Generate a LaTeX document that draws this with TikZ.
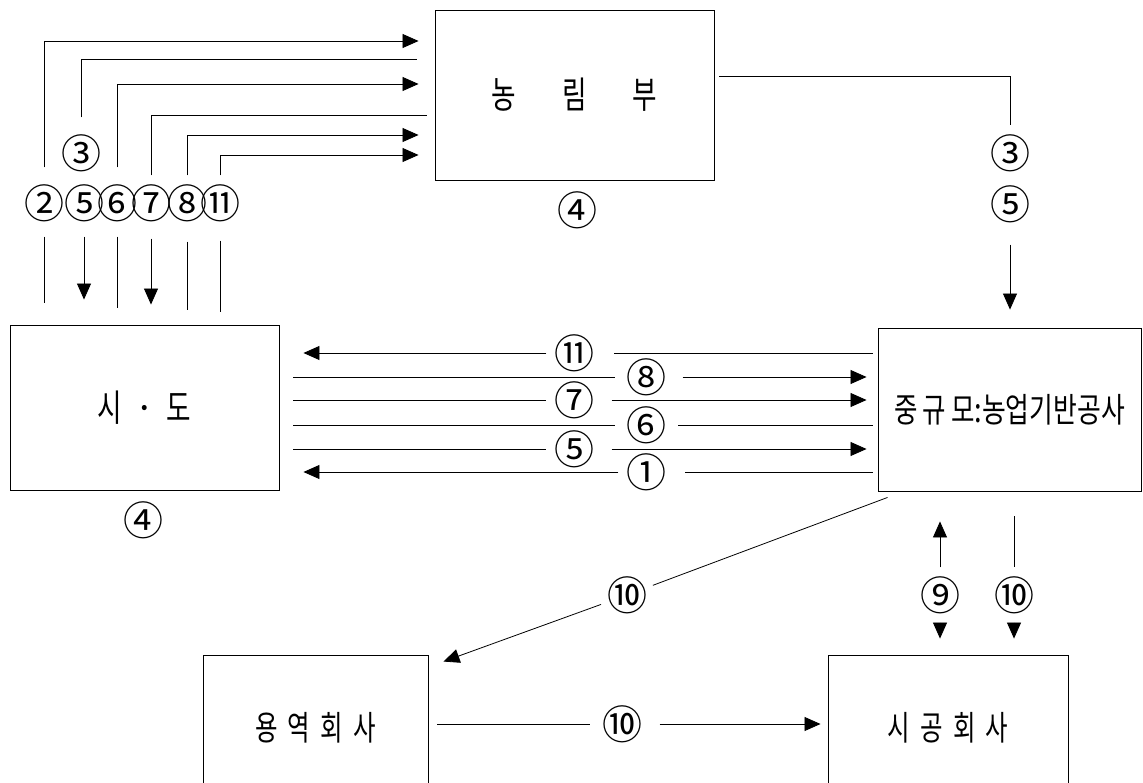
\documentclass[tikz,border=0pt]{standalone}
\usepackage{fontspec}
\setmainfont{Noto Sans CJK KR}
\usetikzlibrary{arrows.meta}
\usetikzlibrary{calc}

\newcommand{\nar}[1]{\scalebox{0.72}[1]{#1}}

\tikzset{
  box/.style={draw, line width=0.9pt, inner sep=0pt, font=\fontsize{37}{40}\selectfont},
  num/.style={circle, inner sep=0pt, minimum size=40pt, font=\fontsize{40}{40}\selectfont},
  arw/.style={-{Triangle[length=16pt,width=14pt]}},
}

\begin{document}
\begin{tikzpicture}[x=1pt, y=-1pt, line width=0.8pt]
  \clip (0,0) rectangle (1143,783);
  \fill[white] (0,0) rectangle (1143,783);
  % boxes
  \node[box, minimum width=279pt, minimum height=170pt] (nonglim) at (574.5,95) {\nar{농}\hspace{46pt}\nar{림}\hspace{46pt}\nar{부}};
  \node[box, minimum width=269pt, minimum height=165pt] (sido) at (144.5,407.5) {\nar{시}\hspace{12pt}·\hspace{12pt}\nar{도}};
  \node[box, minimum width=263pt, minimum height=163pt] (jung) at (1009.5,409.5) {\fontsize{34}{38}\selectfont \scalebox{0.75}[1]{중}\hspace{5pt}\scalebox{0.75}[1]{규}\hspace{5pt}\scalebox{0.75}[1]{모}\scalebox{0.8}[1]{:}\scalebox{0.76}[1]{농업기반공사}};
  \node[box, minimum width=225pt, minimum height=145pt] (yongyeok) at (315.5,727.5) {\fontsize{34}{38}\selectfont \nar{용}\hspace{10pt}\nar{역}\hspace{10pt}\nar{회}\hspace{10pt}\nar{사}};
  \node[box, minimum width=240pt, minimum height=145pt] (sigong) at (948,727.5) {\fontsize{34}{38}\selectfont \nar{시}\hspace{10pt}\nar{공}\hspace{10pt}\nar{회}\hspace{10pt}\nar{사}};
  \node[num] (n4a) at (577,210) {④};
  \node[num] (n4b) at (143,520) {④};

  % si-do <-> nonglimbu
  \node[num] (l3a) at (81,153) {③};
  \node[num] (l2) at (44,203) {②};
  \node[num] (l5) at (84,203) {⑤};
  \node[num] (l6) at (117,203) {⑥};
  \node[num] (l7) at (151,203) {⑦};
  \node[num] (l8) at (187,203) {⑧};
  \node[num] (l11) at (220,203) {⑪};
  \draw[arw, shorten <=8pt, shorten >=16pt] (l2) |- (nonglim.west |- 0,41);
  \draw[shorten <=8pt, shorten >=18pt] (l3a) |- (nonglim.west |- 0,59);
  \draw[arw, shorten <=8pt, shorten >=16pt] (l6) |- (nonglim.west |- 0,84);
  \draw[shorten >=8pt] (l7) |- (nonglim.west |- 0,115);
  \draw[arw, shorten >=16pt] (l8) |- (nonglim.west |- 0,135);
  \draw[arw, shorten >=16pt] (l11) |- (nonglim.west |- 0,155);
  \draw[shorten <=6pt, shorten >=22pt] (l2) -- (l2 |- sido.north);
  \draw[arw, shorten <=6pt, shorten >=25pt] (l5) -- (l5 |- sido.north);
  \draw[shorten <=6pt, shorten >=17pt] (l6) -- (l6 |- sido.north);
  \draw[arw, shorten <=8pt, shorten >=20pt] (l7) -- (l7 |- sido.north);
  \draw[shorten <=11pt, shorten >=15pt] (l8) -- (l8 |- sido.north);
  \draw[shorten <=10pt, shorten >=13pt] (l11) -- (l11 |- sido.north);

  % nonglimbu -> jung
  \node[num] (r3) at (1010,153) {③};
  \node[num] (r5) at (1010,204) {⑤};
  \draw[shorten <=5pt] (nonglim.east |- 0,76) -| (r3);
  \draw[arw, shorten <=13pt, shorten >=18pt] (r5) -- (r5 |- jung.north);

  % si-do <-> jung
  \node[num] (m11) at (574,353) {⑪};
  \node[num] (m8) at (646,377) {⑧};
  \node[num] (m7) at (574,400) {⑦};
  \node[num] (m6) at (646,425) {⑥};
  \node[num] (m5) at (574,449) {⑤};
  \node[num] (m1) at (646,472) {①};
  \draw[arw, shorten >=24pt] (m11) -- (m11 -| sido.east);
  \draw[shorten <=5pt, shorten >=12pt] (m11 -| jung.west) -- (m11);
  \draw[shorten <=14pt, shorten >=3pt] (m8 -| sido.east) -- (m8);
  \draw[arw, shorten <=9pt, shorten >=11pt] (m8) -- (m8 -| jung.west);
  \draw[shorten <=14pt] (m7 -| sido.east) -- (m7);
  \draw[arw, shorten <=10pt, shorten >=11pt] (m7) -- (m7 -| jung.west);
  \draw[shorten <=14pt, shorten >=3pt] (m6 -| sido.east) -- (m6);
  \draw[shorten <=5pt, shorten >=4pt] (m6 -| jung.west) -- (m6);
  \draw[shorten <=14pt] (m5 -| sido.east) -- (m5);
  \draw[arw, shorten <=10pt, shorten >=11pt] (m5) -- (m5 -| jung.west);
  \draw[arw, shorten <=0pt, shorten >=24pt] (m1) -- (m1 -| sido.east);
  \draw[shorten <=5pt, shorten >=11pt] (m1 -| jung.west) -- (m1);

  % jung -> yongyeok, sigong
  \node[num] (d10) at (627,595) {⑩};
  \node[num] (l9) at (940,595) {⑨};
  \node[num] (v10) at (1014,595) {⑩};
  \node[num] (b10) at (622,724) {⑩};
  \draw ([xshift=10pt,yshift=-6pt]jung.south west) -- (d10);
  \draw[arw] (d10) -- ([xshift=15pt,yshift=-7pt]yongyeok.north east);
  \draw[arw, shorten >=30pt] (l9) -- (l9 |- jung.south);
  \draw[arw, shorten >=16pt] (l9) -- (l9 |- sigong.north);
  \draw[shorten <=25pt] (v10 |- jung.south) -- (v10);
  \draw[arw, shorten >=16pt] (v10) -- (v10 |- sigong.north);
  \draw[shorten <=9pt, shorten >=4pt] (yongyeok.east |- b10) -- (b10);
  \draw[arw, shorten <=10pt, shorten >=7pt] (b10) -- (b10 -| sigong.west);
\end{tikzpicture}
\end{document}
